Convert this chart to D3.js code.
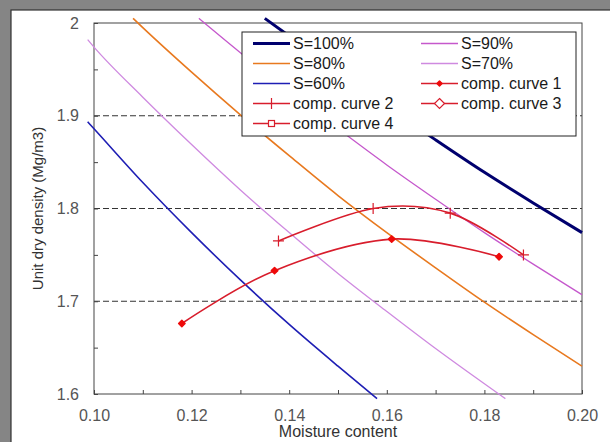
<html>
<head>
  <title>Compaction curves</title>
  <style>
  body {
    margin: 0;
    font: 16px "Liberation Sans", Arial, sans-serif;
  }
  .grid {
    stroke: #333;
    stroke-dasharray: 6,3;
  }
  .axis text {
    fill: #555;
    font: 16px "Liberation Sans", Arial, sans-serif;
  }
  .axis line {
    stroke: #444;
  }
  .legend text {
    fill: #1a1a1a;
    font: 16px "Liberation Sans", Arial, sans-serif;
  }
  </style>
</head>
<body>
  <div id='chart'></div>

  <script src="https://d3js.org/d3.v7.min.js"></script>
  <script>
  // saturation lines
  var s100X = [0.135, 0.14, 0.15, 0.16, 0.17, 0.18, 0.19, 0.20]
  var s100Y = [2.005, 1.986, 1.947, 1.910, 1.874, 1.839, 1.806, 1.774]
  var s90X = [0.1215, 0.13, 0.14, 0.15, 0.16, 0.17, 0.18, 0.19, 0.20]
  var s90Y = [2.005, 1.968, 1.926, 1.886, 1.847, 1.810, 1.774, 1.740, 1.707]
  var s80X = [0.108, 0.11, 0.12, 0.13, 0.14, 0.15, 0.16, 0.17, 0.18, 0.19, 0.20]
  var s80Y = [2.005, 1.995, 1.947, 1.901, 1.857, 1.814, 1.774, 1.736, 1.699, 1.664, 1.630]
  var s70X = [0.0987, 0.10, 0.11, 0.12, 0.13, 0.14, 0.15, 0.16, 0.17, 0.18, 0.1843]
  var s70Y = [1.982, 1.974, 1.920, 1.869, 1.820, 1.774, 1.730, 1.689, 1.649, 1.611, 1.595]
  var s60X = [0.0987, 0.10, 0.11, 0.12, 0.13, 0.14, 0.15, 0.158]
  var s60Y = [1.8935, 1.886, 1.828, 1.774, 1.723, 1.675, 1.630, 1.595]

  // compaction curves
  var comp1X = [0.118, 0.137, 0.161, 0.183]
  var comp1Y = [1.676, 1.733, 1.767, 1.748]
  var comp2X = [0.1378, 0.1572, 0.1730, 0.1880]
  var comp2Y = [1.765, 1.800, 1.795, 1.750]

  var xTicks = [0.10, 0.11, 0.12, 0.13, 0.14, 0.15, 0.16, 0.17, 0.18, 0.19, 0.20]
  var xLabels = ["0.10", "", "0.12", "", "0.14", "", "0.16", "", "0.18", "", "0.20"]
  var yTicks = [1.6, 1.65, 1.7, 1.75, 1.8, 1.85, 1.9, 1.95, 2.0]
  var yLabels = ["1.6", "", "1.7", "", "1.8", "", "1.9", "", "2"]
  var gridLines = [1.7, 1.8, 1.9]

  var satNames = ["S=100%", "S=90%", "S=80%", "S=70%", "S=60%"]
  var compNames = ["comp. curve 1", "comp. curve 2", "comp. curve 3", "comp. curve 4"]

  var W = 610, H = 442
  var margin = {top: 23, right: 28, bottom: 48, left: 94},
    width = W - margin.left - margin.right,
    height = H - margin.top - margin.bottom;

  var red = "#d81d2c", dot = "#ee0a0a"

  var series = [
    {name: "S=100%", xs: s100X, ys: s100Y, color: "#00006e", w: 3},
    {name: "S=90%", xs: s90X, ys: s90Y, color: "#c558cc", w: 1.3},
    {name: "S=80%", xs: s80X, ys: s80Y, color: "#e8791f", w: 1.6},
    {name: "S=70%", xs: s70X, ys: s70Y, color: "#cf8ae0", w: 1.3},
    {name: "S=60%", xs: s60X, ys: s60Y, color: "#1e1eb4", w: 1.6}
  ]
  var comps = [
    {name: "comp. curve 1", xs: comp1X, ys: comp1Y, marker: "dot"},
    {name: "comp. curve 2", xs: comp2X, ys: comp2Y, marker: "plus"}
  ]

  var svg = d3.select("#chart").append("svg")
    .attr("width", W)
    .attr("height", H)

  // stone backdrop and white panel
  svg.append("rect").attr("width", W).attr("height", H).attr("fill", "#858585")
  svg.append("rect").attr("x", 11).attr("y", 10).attr("width", W).attr("height", H)
    .attr("fill", "#fff").attr("stroke", "#333").attr("stroke-width", 1.2)

  var g = svg.append("g")
    .attr("transform", "translate(" + margin.left + "," + margin.top + ")")

  var x = d3.scaleLinear().domain([0.10, 0.20]).range([0, width])
  var y = d3.scaleLinear().domain([1.6, 2.0]).range([height, 0])

  g.selectAll(".grid")
    .data(gridLines)
    .enter().append("line")
      .attr("class", "grid")
      .attr("x1", 0).attr("x2", width)
      .attr("y1", function(d) { return y(d) })
      .attr("y2", function(d) { return y(d) })

  g.append("rect")
    .attr("width", width).attr("height", height)
    .attr("fill", "none").attr("stroke", "#444")

  g.append("g")
    .attr("class", "axis")
    .attr("transform", "translate(0," + height + ")")
    .call(d3.axisBottom(x).tickValues(xTicks).tickSize(-4).tickPadding(16)
      .tickFormat(function(d, i) { return xLabels[i] }))
  g.append("g")
    .attr("class", "axis")
    .call(d3.axisLeft(y).tickValues(yTicks).tickSize(-4).tickPadding(15)
      .tickFormat(function(d, i) { return yLabels[i] }))
  g.selectAll(".axis .domain").remove()

  svg.append("text")
    .attr("x", margin.left + width / 2).attr("y", 437)
    .attr("text-anchor", "middle").attr("fill", "#333")
    .style("font-size", "16px")
    .text("Moisture content")
  svg.append("text")
    .attr("transform", "translate(43," + (margin.top + height / 2) + ") rotate(-90)")
    .attr("text-anchor", "middle").attr("fill", "#333")
    .style("font-size", "15px")
    .text("Unit dry density (Mg/m3)")

  var line = d3.line()
    .x(function(d) { return x(d[0]) })
    .y(function(d) { return y(d[1]) })

  series.forEach(function(s) {
    g.append("path")
      .datum(d3.zip(s.xs, s.ys))
      .attr("fill", "none")
      .attr("stroke", s.color)
      .attr("stroke-width", s.w)
      .attr("d", line.curve(d3.curveMonotoneX))
  })

  function drawMarker(sel, type, cx, cy, r) {
    var t = "translate(" + cx + "," + cy + ")"
    if (type == "dot") {
      sel.append("path")
        .attr("d", "M0,-" + r + "L" + r + ",0L0," + r + "L-" + r + ",0Z")
        .attr("transform", t)
        .attr("fill", dot).attr("stroke", dot).attr("stroke-width", 1.5)
        .attr("stroke-linejoin", "round")
    } else if (type == "plus") {
      sel.append("path")
        .attr("d", "M-5.5,0H5.5M0,-5.5V5.5")
        .attr("transform", t)
        .attr("stroke", red).attr("stroke-width", 1.2)
    } else if (type == "diamond") {
      sel.append("path")
        .attr("d", "M0,-5L5,0L0,5L-5,0Z")
        .attr("transform", t)
        .attr("fill", "#fff").attr("stroke", red).attr("stroke-width", 1.2)
    } else if (type == "square") {
      sel.append("rect")
        .attr("x", cx - 3).attr("y", cy - 3).attr("width", 6).attr("height", 6)
        .attr("fill", "#fff").attr("stroke", red).attr("stroke-width", 1.2)
    }
  }

  comps.forEach(function(c) {
    var pts = d3.zip(c.xs, c.ys)
    g.append("path")
      .datum(pts)
      .attr("fill", "none")
      .attr("stroke", red)
      .attr("stroke-width", 1.6)
      .attr("d", line.curve(d3.curveCardinal))
    pts.forEach(function(p) { drawMarker(g, c.marker, x(p[0]), y(p[1]), 3.2) })
  })

  // legend, two columns
  var legend = svg.append("g").attr("class", "legend")
  legend.append("rect")
    .attr("x", 242).attr("y", 32).attr("width", 334).attr("height", 104)
    .attr("fill", "#fff").attr("stroke", "#222")

  var col1 = [
    {name: satNames[0], color: "#00006e", w: 3},
    {name: satNames[2], color: "#e8791f", w: 1.6},
    {name: satNames[4], color: "#1e1eb4", w: 1.6},
    {name: compNames[1], color: red, w: 1.6, marker: "plus"},
    {name: compNames[3], color: red, w: 1.6, marker: "square"}
  ]
  var col2 = [
    {name: satNames[1], color: "#c558cc", w: 1.4},
    {name: satNames[3], color: "#cf8ae0", w: 1.4},
    {name: compNames[0], color: red, w: 1.6, marker: "dot"},
    {name: compNames[2], color: red, w: 1.6, marker: "diamond"}
  ]

  function legendColumn(items, x0) {
    items.forEach(function(d, i) {
      var ly = 43.5 + i * 20
      legend.append("line")
        .attr("x1", x0).attr("x2", x0 + 37)
        .attr("y1", ly).attr("y2", ly)
        .attr("stroke", d.color).attr("stroke-width", d.w)
      if (d.marker) drawMarker(legend, d.marker, x0 + 18.5, ly, 2.5)
      legend.append("text")
        .attr("x", x0 + 40).attr("y", ly).attr("dy", "0.36em")
        .text(d.name)
    })
  }
  legendColumn(col1, 253)
  legendColumn(col2, 421)
  </script>
</body>
</html>
